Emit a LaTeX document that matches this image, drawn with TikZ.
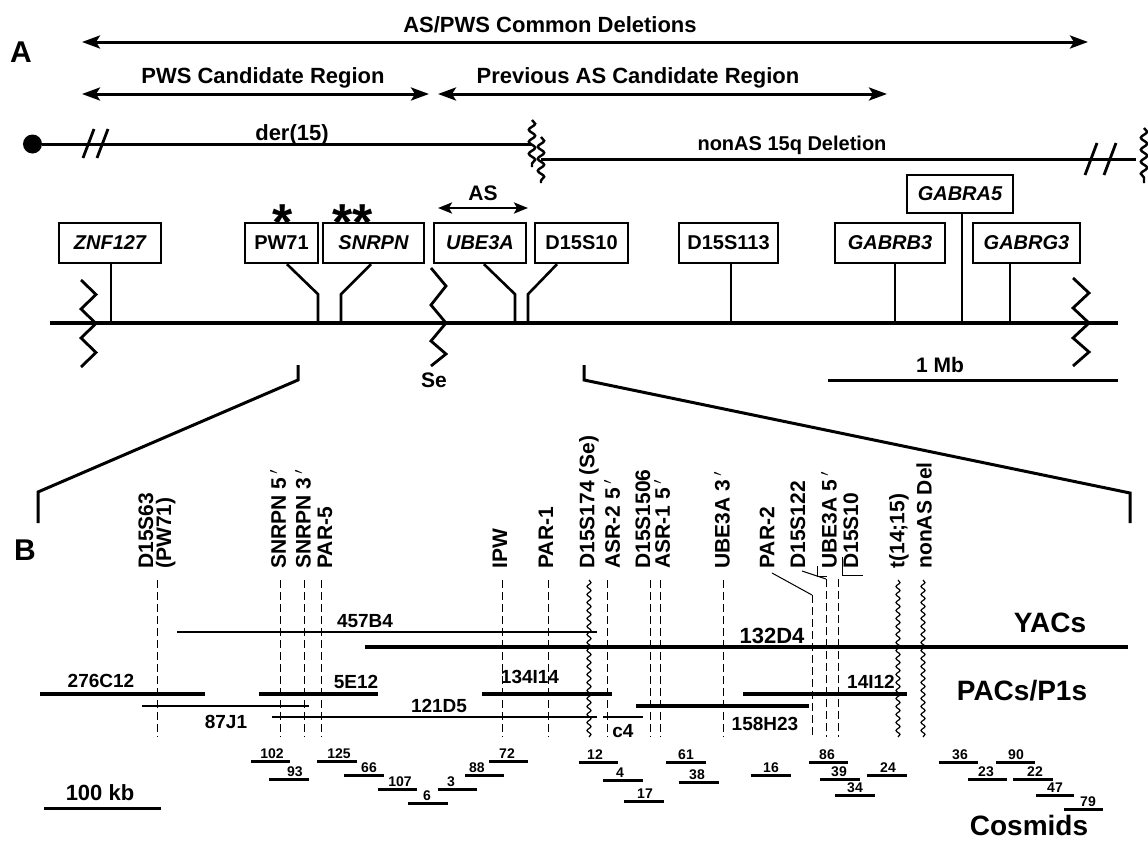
\documentclass[tikz,border=0pt]{standalone}
\usepackage{fontspec}
\setmainfont{Liberation Sans}
\usetikzlibrary{arrows.meta,positioning,decorations.pathmorphing}

\begin{document}
\begin{tikzpicture}[x=0.5pt, y=-0.5pt,
  every node/.style={inner sep=0pt, font=\bfseries},
  punta/.tip={Stealth[length=9pt, width=6.5pt, inset=2pt]},
  rango/.style={line width=1.5pt, punta-punta},
  titulo/.style={anchor=base, font=\fontsize{11}{13}\selectfont\bfseries},
  letra/.style={anchor=base, font=\fontsize{15}{17}\selectfont\bfseries},
  gen/.style={draw, line width=1.2pt, minimum height=20pt,
              font=\fontsize{10}{12}\selectfont\bfseries},
  geni/.style={gen, font=\fontsize{10}{12}\selectfont\bfseries\itshape},
  estrella/.style={font=\fontsize{26}{28}\selectfont\bfseries},
  tallo/.style={line width=1.3pt},
  cromo/.style={line width=2.2pt},
  corte/.style={line width=1.4pt, line join=miter},
  onda/.style={line width=1.2pt, decorate,
               decoration={snake, amplitude=1.6pt, segment length=6pt}},
  zoomlin/.style={line width=1.5pt},
  marca/.style={rotate=90, anchor=west, align=left,
                font=\fontsize{10.5}{9}\selectfont\bfseries},
  guia/.style={line width=0.5pt, dash pattern=on 4pt off 2pt},
  guiaonda/.style={line width=0.6pt, decorate,
                   decoration={snake, amplitude=1pt, segment length=4pt}},
  fino/.style={line width=0.5pt},
  clonA/.style={line width=1.6pt},
  clonB/.style={line width=1.1pt},
  etq/.style={anchor=base, font=\fontsize{9.5}{11}\selectfont\bfseries},
  grupo/.style={anchor=base, font=\fontsize{14}{16}\selectfont\bfseries},
  cosm/.style={line width=1.5pt},
  num/.style={anchor=south, inner sep=1.2pt, font=\fontsize{7}{8}\selectfont\bfseries},
]
\useasboundingbox (0,0) rectangle (1148,841);

% Panel A: regiones y derivado
\node[letra] (labA) at (21,62) {A};
\node[titulo] (tComun) at (550,32) {AS/PWS Common Deletions};
\coordinate (cI) at (82,42);  \coordinate (cD) at (1088,42);
\draw[rango] (cI) -- (cD);
\node[titulo] (tPWS) at (263,83) {PWS Candidate Region};
\node[titulo] (tAS) at (638,83) {Previous AS Candidate Region};
\coordinate (pI) at (82,94);  \coordinate (pD) at (429,94);
\coordinate (aI) at (438,94); \coordinate (aD) at (887,94);
\draw[rango] (pI) -- (pD);
\draw[rango] (aI) -- (aD);

\node[circle, fill, minimum size=9.5pt] (cen) at (32.5,144) {};
\coordinate (derFin) at (532,144);
\draw[line width=1.5pt] (cen) -- (derFin);
\draw[corte] (83,158) -- (94,129) (97,158) -- (108,129);
\node[titulo] (tDer) at (292,140) {der(15)};
\draw[onda] (532,120) -- (532,167);
\draw[onda] (541,137) -- (541,183);
\coordinate (nonI) at (541,159); \coordinate (nonD) at (1136,159);
\draw[line width=1.5pt] (nonI) -- (nonD);
\draw[corte] (1085,175) -- (1097,143) (1104,175) -- (1116,143);
\draw[onda] (1144,128) -- (1144,183);
\node[titulo, font=\fontsize{10}{12}\selectfont\bfseries] (tNon) at (792,150) {nonAS 15q Deletion};

% Cromosoma y genes
\coordinate (crI) at (50,323); \coordinate (crD) at (1118,323);
\draw[cromo] (crI) -- (crD);
\node[geni, minimum width=51pt]   (znf)  at (110,243)   {ZNF127};
\node[gen,  minimum width=36.5pt] (pw)   at (281.5,243) {PW71};
\node[geni, minimum width=50.5pt] (snr)  at (373.5,243) {SNRPN};
\node[geni, minimum width=46pt]   (ube)  at (480,243)   {UBE3A};
\node[gen,  minimum width=46.5pt] (d10)  at (581.5,243) {D15S10};
\node[gen,  minimum width=49.5pt] (d113) at (728.5,243) {D15S113};
\node[geni, minimum width=55pt]   (gb3)  at (890,243)   {GABRB3};
\node[geni, minimum width=53pt, minimum height=19pt] (ga5) at (960,194) {GABRA5};
\node[geni, minimum width=53.5pt] (gg3)  at (1026.5,243) {GABRG3};

\coordinate (pZnf) at (111,323);  \coordinate (pPw) at (318,323);
\coordinate (pSnr) at (341,323);  \coordinate (pUbe) at (515,323);
\coordinate (pD10) at (528,323);  \coordinate (pD113) at (731,323);
\coordinate (pGb3) at (895,323);  \coordinate (pGa5) at (962,323);
\coordinate (pGg3) at (1010,323);
\draw[tallo] (pZnf |- znf.south) -- (pZnf);
\draw[tallo] ([xshift=2.75pt]pw.south) -- ++(31,30) -- (pPw);
\draw[tallo] ([xshift=-1.25pt]snr.south) -- ++(-30,30) -- (pSnr);
\draw[tallo] ([xshift=2pt]ube.south) -- ++(31,30) -- (pUbe);
\draw[tallo] ([xshift=-12.25pt]d10.south) -- ++(-29,30) -- (pD10);
\draw[tallo] (pD113 |- d113.south) -- (pD113);
\draw[tallo] (pGb3 |- gb3.south) -- (pGb3);
\draw[tallo] (pGa5 |- ga5.south) -- (pGa5);
\draw[tallo] (pGg3 |- gg3.south) -- (pGg3);

\node[estrella] (st1) at (283,213) {\raisebox{-0.37em}[0.3em][0pt]{*}};
\node[estrella] (st2) at (353,213) {\raisebox{-0.37em}[0.3em][0pt]{**}};
\node[titulo, font=\fontsize{10.5}{12}\selectfont\bfseries] (tAS2) at (483,200) {AS};
\draw[line width=1.3pt, {Stealth[length=7pt,width=5.5pt,inset=1.5pt]}-{Stealth[length=7pt,width=5.5pt,inset=1.5pt]}]
  (438,208) -- (528,208);

% cortes en zigzag
\draw[corte] (81,280) -- (96,294.5) -- (81,309) -- (96,323.5) -- (81,338) -- (96,352.5) -- (81,367);
\draw[corte] (431,268) -- (446,286) -- (431,305) -- (446,323) -- (431,341) -- (446,354) -- (431,366);
\draw[corte] (1073,278) -- (1089,293) -- (1073,308) -- (1089,323) -- (1073,338) -- (1089,352) -- (1073,366);
\node[titulo, font=\fontsize{10.5}{12}\selectfont\bfseries] (tSe) at (434,387) {Se};

\node[titulo, font=\fontsize{10.5}{12}\selectfont\bfseries] (tMb) at (940,372) {1 Mb};
\draw[line width=1.5pt] (828,380) -- (1118,380);

% lineas de ampliacion
\draw[zoomlin] (298,365) -- (298,380) -- (38,492) -- (38,523);
\draw[zoomlin] (584,365) -- (584,380) -- (1130,493) -- (1130,523);

% Panel B: marcadores
\node[letra] (labB) at (25,560) {B};
\foreach \lx/\lt [count=\i] in {157/{D15S63\\(PW71)}, 278/{SNRPN 5\,$'$}, 303/{SNRPN 3\,$'$},
    325/{PAR-5}, 500/{IPW}, 546/{PAR-1}, 589/{D15S174 (Se)}, 612/{ASR-2 5\,$'$},
    643/{D15S1506}, 662/{ASR-1 5\,$'$}, 722/{UBE3A 3\,$'$}, 767/{PAR-2},
    798/{D15S122}, 829/{UBE3A 5\,$'$}, 851/{D15S10}, 899/{t(14;15)}, 924/{nonAS Del}}
  \node[marca] (m\i) at (\lx,569) {\lt};

\foreach \gx in {157,280,304,321,502,548,607,650,660,723}
  \draw[guia] (\gx,580) -- (\gx,737);
\foreach \gx in {589,898,923}
  \draw[guiaonda] (\gx,580) -- (\gx,737);
\coordinate (qPar) at (812,595); \coordinate (qD122) at (826,579); \coordinate (qUbe) at (838,579);
\draw[fino] ([shift={(5,4)}]m12.west) -- (qPar);
\draw[guia] (qPar) -- (812,737);
\draw[fino] ([shift={(4,2)}]m13.west) -- (qD122);
\draw[guia] (qD122) -- (826,737);
\draw[fino] (817,566) -- (817,576) -- (827,576);
\draw[fino] (842,557) -- (842,575) -- (863,575);
\draw[guia] (qUbe) -- (838,737);

% YACs
\draw[clonB] (177,632) -- (597,632);
\node[etq] (y457) at (365,627) {457B4};
\draw[clonA] (365,647) -- (1128,647);
\node[etq, font=\fontsize{11}{13}\selectfont\bfseries] (y132) at (772,643) {132D4};
\node[grupo] (gYac) at (1050,632) {YACs};

% PACs/P1s
\draw[clonA] (40,694) -- (205,694);   \node[etq] (p276) at (101,687) {276C12};
\draw[clonB] (142,706) -- (309,706);  \node[etq] (p87)  at (226,728) {87J1};
\draw[clonA] (259,694) -- (378,694);  \node[etq] (p5)   at (356,688) {5E12};
\draw[clonB] (272,717) -- (597,717);  \node[etq] (p121) at (439,712) {121D5};
\draw[clonA] (482,694) -- (612,694);  \node[etq] (p134) at (530,683) {134I14};
\draw[clonB] (603,717) -- (643,717);  \node[etq] (pc4)  at (623,737) {c4};
\draw[clonA] (636,706) -- (809,706);  \node[etq] (p158) at (765,730) {158H23};
\draw[clonA] (743,694) -- (907,694);  \node[etq] (p14)  at (871,688) {14I12};
\node[grupo] (gPac) at (1022,700) {PACs/P1s};

% Cosmidos
\foreach \xa/\xb/\yc/\lx/\n in {251/290/761/272/102, 269/309/779/295/93, 317/357/761/339/125,
    344/384/775/369/66, 378/417/789/400/107, 408/448/803/427/6, 438/477/789/451/3,
    465/504/775/477/88, 489/528/761/507/72, 579/618/762/595/12, 603/643/780/620/4,
    624/664/801/645/17, 666/706/762/686/61, 679/719/782/697/38, 751/791/775/771/16,
    809/848/762/827/86, 820/860/779/839/39, 835/875/795/855/34, 867/907/775/888/24,
    939/978/762/960/36, 996/1035/762/1016/90, 968/1007/779/986/23, 1013/1053/779/1035/22,
    1036/1074/795/1055/47, 1064/1103/809/1088/79}
  {\draw[cosm] (\xa,\yc) -- (\xb,\yc);
   \node[num] (k\n) at (\lx,\yc) {\n};}
\node[grupo] (gCos) at (1029,835) {Cosmids};

\node[titulo, font=\fontsize{11}{13}\selectfont\bfseries] (tKb) at (100,800) {100 kb};
\draw[line width=1.5pt] (44,808) -- (161,808);
\end{tikzpicture}
\end{document}
